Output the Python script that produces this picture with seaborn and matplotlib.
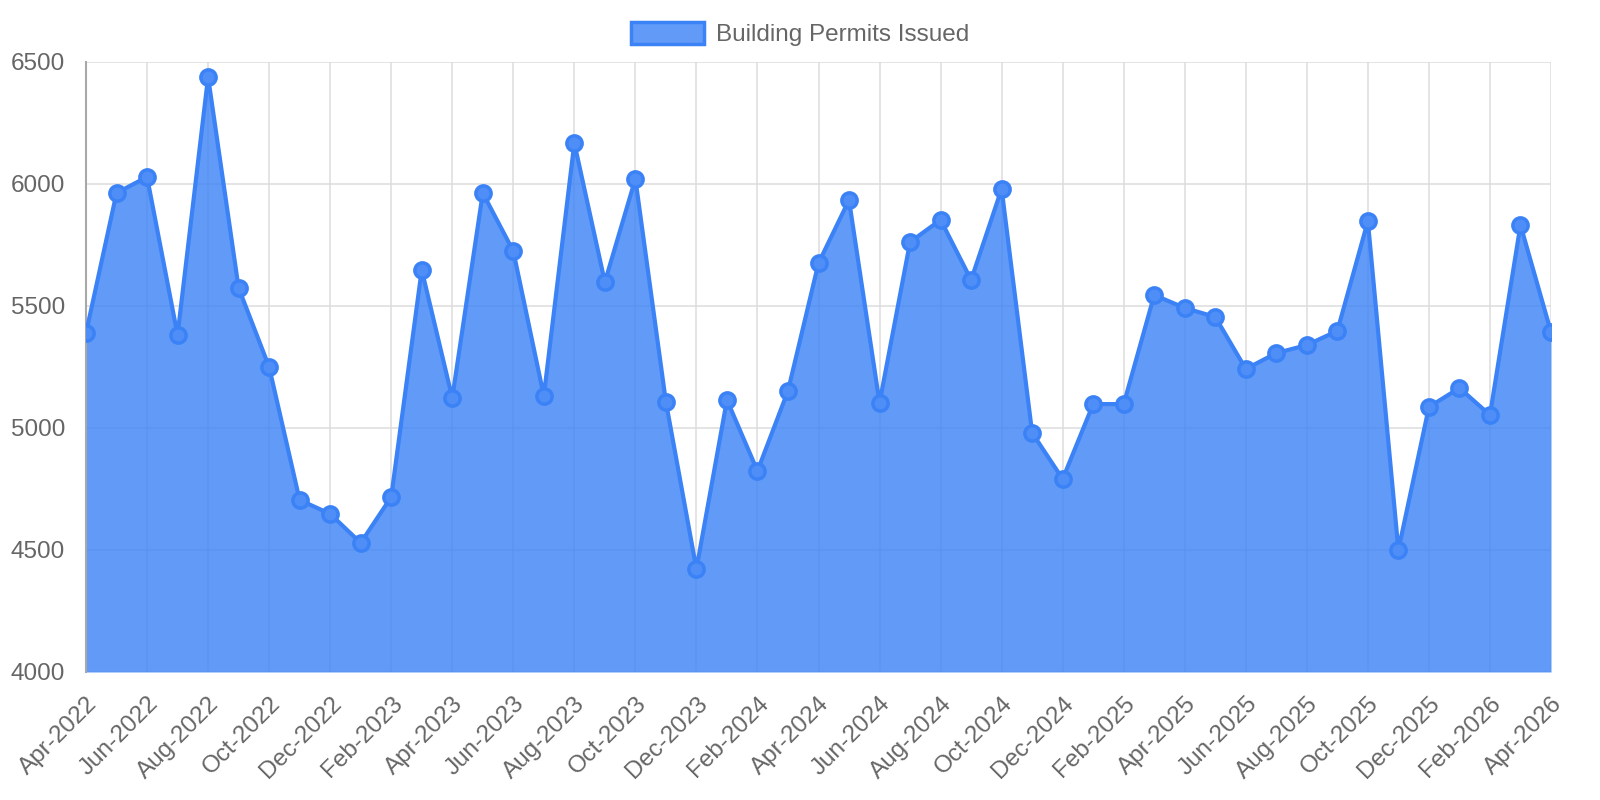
import matplotlib
matplotlib.use("Agg")
import matplotlib.pyplot as plt
import matplotlib.patches as mpatches
import seaborn as sns
import pandas as pd
import numpy as np

# Monthly labels Apr-2022 .. Apr-2026
months = ["Apr", "May", "Jun", "Jul", "Aug", "Sep", "Oct", "Nov", "Dec", "Jan", "Feb", "Mar"]
labels = []
year = 2022
for i in range(49):
    m = months[i % 12]
    if m == "Jan":
        year += 1
    labels.append(f"{m}-{year}")

permits = [
    5389, 5963, 6029, 5381, 6439, 5574, 5250, 4705, 4648,
    4529, 4717, 5648, 5123, 5963, 5725, 5131, 6168, 5598, 6021, 5107, 4422,
    5115, 4824, 5152, 5676, 5934, 5103, 5762, 5853, 5607, 5980, 4980, 4791,
    5098, 5098, 5545, 5492, 5455, 5242, 5307, 5340, 5398, 5848, 4500, 5086,
    5164, 5053, 5832, 5393,
]

df = pd.DataFrame({"idx": range(len(labels)), "month": labels, "permits": permits})

sns.set_style("white")
plt.rcParams["font.family"] = ["Liberation Sans", "DejaVu Sans"]

line_color = "#3b82f6"
grid_color = "#dcdcdc"
text_color = "#666666"

fig = plt.figure(figsize=(16, 8), dpi=100)
ax = fig.add_axes([86 / 1600, 128 / 800, (1551 - 86) / 1600, (672 - 62) / 800])

ax.grid(True, color=grid_color, linewidth=1.1, zorder=0)
ax.set_axisbelow(True)

ax.fill_between(df["idx"], df["permits"], 4000, color=line_color, alpha=0.8,
                linewidth=0, zorder=2)
sns.lineplot(data=df, x="idx", y="permits", ax=ax, color=line_color, linewidth=3,
             marker="o", markersize=11, markerfacecolor="#4f8ef6",
             markeredgecolor=line_color, markeredgewidth=2.5, zorder=3)

ax.set_xlim(0, len(labels) - 1)
ax.set_ylim(4000, 6500)
ax.set_xticks(df["idx"][::2])
ax.set_xticklabels(df["month"][::2], rotation=45, ha="right", rotation_mode="anchor")
ax.set_yticks(np.arange(4000, 6501, 500))
ax.tick_params(axis="both", colors=grid_color, labelcolor=text_color, labelsize=17.5,
               length=13, width=1.1, pad=2)
for s in ["top", "right", "bottom"]:
    ax.spines[s].set_visible(False)
ax.spines["left"].set_color("#a8a8a8")
ax.spines["left"].set_linewidth(1.5)
ax.set_xlabel("")
ax.set_ylabel("")

handle = mpatches.Patch(edgecolor=line_color, linewidth=2.5,
                        label="Building Permits Issued")
handle.set_facecolor((0.231, 0.51, 0.965, 0.8))
fig.legend(handles=[handle], loc="upper center", bbox_to_anchor=(0.5, 1.0),
           frameon=False, fontsize=17.5, labelcolor=text_color,
           handlelength=3.0, handleheight=1.0, handletextpad=0.5)

fig.savefig("out.png", dpi=100)
